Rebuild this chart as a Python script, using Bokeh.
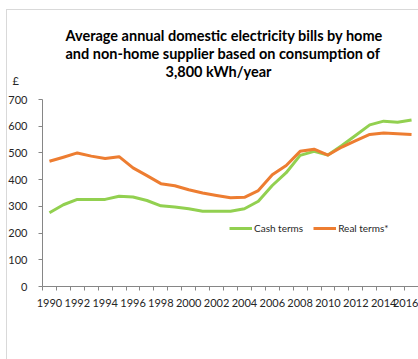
from bokeh.plotting import figure
from bokeh.models import (FixedTicker, Legend, LegendItem, Range1d, Title,
                          InlineStyleSheet)
from bokeh.embed import file_html
from bokeh.resources import INLINE

# Average annual domestic electricity bills (GBP), 1990-2016
years = list(range(1990, 2017))
cash_terms = [276, 306, 326, 326, 326, 338, 335, 322, 302, 298, 291, 282, 282, 282,
              291, 319, 378, 426, 491, 506, 492, 528, 566, 605, 619, 615, 623]
real_terms = [469, 484, 500, 488, 479, 486, 444, 415, 385, 377, 362, 350, 341, 332,
              334, 359, 418, 453, 506, 514, 492, 522, 546, 569, 575, 572, 569]
y_ticks = [0, 100, 200, 300, 400, 500, 600, 700]
x_label_years = list(range(1990, 2017, 2))
title_lines = ["Average annual domestic electricity bills by home",
               "and non-home supplier based on consumption of",
               "3,800 kWh/year"]
# left indent of each title line from the plot area's left edge
title_indents = [23, 23, 123]

FONT = "Lato"
GREEN = "#92D050"
ORANGE = "#ED7D31"
AXIS_GREY = "#868686"

# thin grey chart-area border along the top and left edges
border_css = InlineStyleSheet(css="""
:host::after {
  content: ""; position: absolute; left: 6px; top: 9px; right: -20px; bottom: -20px;
  border-left: 1px solid #D9D9D9; border-top: 1px solid #D9D9D9;
  pointer-events: none;
}
""")

p = figure(width=418, height=359, output_backend="svg", toolbar_location=None,
           x_range=Range1d(1989.5, 2016.5), y_range=Range1d(0, 700),
           min_border_left=42, min_border_right=0, min_border_top=99,
           min_border_bottom=73, stylesheets=[border_css])
p.outline_line_color = None
p.grid.grid_line_color = None
p.background_fill_color = "white"
p.border_fill_color = "white"

r_cash = p.line(years, cash_terms, line_color=GREEN, line_width=3, line_join="round")
r_real = p.line(years, real_terms, line_color=ORANGE, line_width=3, line_join="round")

# x axis: labels every other year, tick marks between the yearly categories
xa = p.xaxis[0]
xa.ticker = FixedTicker(ticks=x_label_years,
                        minor_ticks=[y - 0.5 for y in range(1990, 2018)])
xa.major_tick_line_color = None
xa.major_tick_out = 0
xa.major_tick_in = 0
xa.minor_tick_out = 4
xa.minor_tick_in = 0
xa.minor_tick_line_color = AXIS_GREY
xa.axis_line_color = AXIS_GREY
xa.major_label_standoff = 8
xa.major_label_text_font = FONT
xa.major_label_text_font_size = "11px"
xa.major_label_text_color = "#262626"

ya = p.yaxis[0]
ya.ticker = FixedTicker(ticks=y_ticks)
ya.minor_tick_line_color = None
ya.major_tick_out = 4
ya.major_tick_in = 0
ya.major_tick_line_color = AXIS_GREY
ya.axis_line_color = AXIS_GREY
ya.major_label_standoff = 11
ya.major_label_text_font = FONT
ya.major_label_text_font_size = "11px"
ya.major_label_text_color = "#262626"

# gap between the plot area and the currency unit
p.add_layout(Title(text=" ", align="left", standoff=5,
                   text_font=FONT, text_font_size="11px"), "above")

# currency unit above the value axis
p.add_layout(Title(text="£", align="left", offset=-30, standoff=-14.8,
                   text_font=FONT, text_font_size="11px",
                   text_font_style="normal", text_color="#262626"), "above")

# title lines, stacked upwards
for line, indent in reversed(list(zip(title_lines, title_indents))):
    p.add_layout(Title(text=line, align="left", standoff=-1, offset=indent,
                       text_font=FONT, text_font_style="bold",
                       text_font_size="14.5px", text_color="#000000"), "above")

legend = Legend(items=[LegendItem(label="Cash terms", renderers=[r_cash]),
                       LegendItem(label="Real terms*", renderers=[r_real])],
                orientation="horizontal", location=(187, 51),
                glyph_width=23, glyph_height=14, label_standoff=2, spacing=10,
                padding=0, margin=0, border_line_color=None,
                background_fill_alpha=0, label_text_font=FONT,
                label_text_font_size="10px", label_text_color="#262626",
                label_height=14)
p.add_layout(legend, "center")

open("out.html", "w").write(file_html(p, INLINE))
